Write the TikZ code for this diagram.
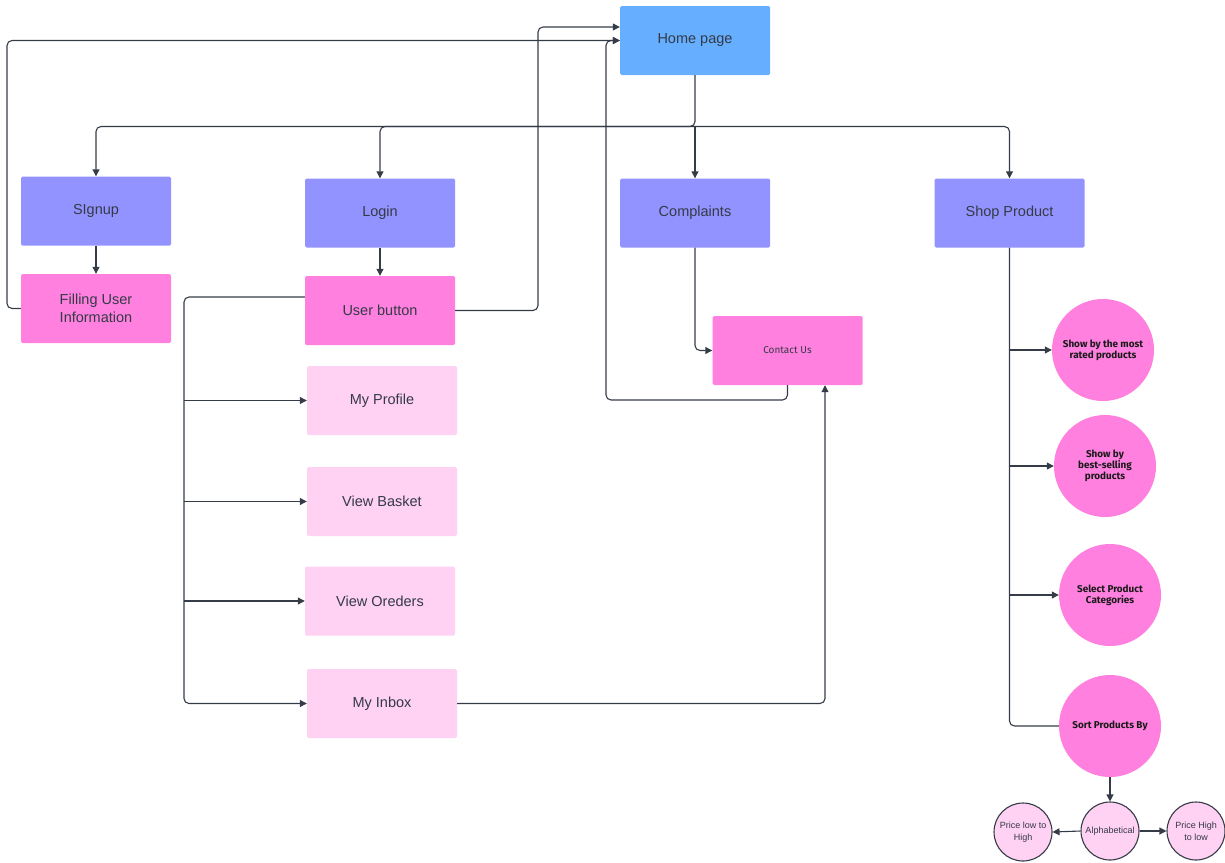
\documentclass[tikz,border=0pt]{standalone}
\usepackage{fontspec}
\setmainfont{Liberation Sans}
\newfontfamily\ubf{Fira Sans}
\usetikzlibrary{arrows.meta}
\definecolor{homeblue}{HTML}{66AEFF}
\definecolor{lav}{HTML}{9393FF}
\definecolor{pinkA}{HTML}{FF80DF}
\definecolor{pinkL}{HTML}{FFD1F3}
\definecolor{lnc}{HTML}{353C47}
\definecolor{txt}{HTML}{343A46}
\begin{document}
\begin{tikzpicture}[x=1pt,y=-1pt,
  box/.style={rectangle, rounded corners=1.5pt, minimum width=150pt, minimum height=69pt, inner sep=2pt, align=center, text=txt, font=\fontsize{14.5}{17.5}\selectfont},
  circ/.style={circle, fill=pinkA, minimum size=102pt, inner sep=1pt, align=center, text=black!90, font=\ubf\bfseries\fontsize{9.9}{11.3}\selectfont},
  scirc/.style={circle, fill=pinkL, draw=lnc, line width=1.1pt, minimum size=58pt, inner sep=1pt, align=center, text=txt, font=\fontsize{9}{12}\selectfont},
  plainline/.style={draw=lnc, line width=1.1pt, rounded corners=5pt},
  conn/.style={plainline, -{Triangle[length=7pt,width=7pt]}}]
\useasboundingbox (0,0) rectangle (1225,862);

% nodes
\node[box, fill=homeblue] (home) at (695,40.5) {Home page};
\node[box, fill=lav] (signup) at (96,211) {SIgnup};
\node[box, fill=pinkA] (fill) at (96,308.5) {Filling User\\Information};
\node[box, fill=lav] (login) at (380,213) {Login};
\node[box, fill=pinkA] (ubtn) at (380,310.5) {User button};
\node[box, fill=lav] (compl) at (695,213) {Complaints};
\node[box, fill=lav] (shop) at (1009.5,213) {Shop Product};
\node[box, fill=pinkA, font=\ubf\fontsize{10}{12}\selectfont] (contact) at (787.5,350.5) {Contact Us};
\node[box, fill=pinkL] (profile) at (382,400.5) {My Profile};
\node[box, fill=pinkL] (basket) at (382,501.5) {View Basket};
\node[box, fill=pinkL] (orders) at (380,601) {View Oreders};
\node[box, fill=pinkL] (inbox) at (382,703.5) {My Inbox};

\node[circ] (c1) at (1103,350) {Show by the most\\rated products};
\node[circ] (c2) at (1105,466) {Show by\\best-selling\\products};
\node[circ] (c3) at (1110,595) {Select Product\\Categories};
\node[circ] (c4) at (1110,726) {Sort Products By};
\node[scirc] (b1) at (1023,832) {Price low to\\High};
\node[scirc] (b2) at (1110,831) {Alphabetical};
\node[scirc] (b3) at (1196,831) {Price High\\to low};

% junction coordinates
\coordinate (hj) at (695,126.5);
\coordinate (ut) at (184,703.5);
\coordinate (sj) at (1009.5,726);

% home page branches
\draw[conn] (home.south) -- (hj) -| (signup.north);
\draw[conn] (hj) -| (login.north);
\draw[conn] (hj) -- (compl.north);
\draw[conn] (hj) -| (shop.north);

\draw[conn] (signup.south) -- (fill.north);
\draw[conn] (login.south) -- (ubtn.north);

% back to home page
\draw[conn] (fill.west) -- (7,308.5) |- (home.west);
\draw[conn] (ubtn.east) -- (538,310.5) |- ([yshift=13.5pt]home.west);
\draw[conn] (contact.south) |- (606,400) |- (home.west);

% complaints
\draw[conn] (compl.south) |- (contact.west);

% user button tree
\draw[conn] ([yshift=13.5pt]ubtn.west) -| (ut) -- (inbox.west);
\draw[conn] (ut |- profile.west) -- (profile.west);
\draw[conn] (ut |- basket.west) -- (basket.west);
\draw[conn] (ut |- orders.west) -- (orders.west);
\draw[conn] (inbox.east) -| ([xshift=37.5pt]contact.south);

% shop product tree
\draw[plainline] (shop.south) |- (c4.west);
\draw[conn] (sj |- c1.west) -- (c1.west);
\draw[conn] (sj |- c2.west) -- (c2.west);
\draw[conn] (sj |- c3.west) -- (c3.west);

\draw[conn] (c4.south) -- (b2.north);
\draw[conn] (b2.west) -- (b1.east);
\draw[conn] (b2.east) -- (b3.west);
\end{tikzpicture}
\end{document}
